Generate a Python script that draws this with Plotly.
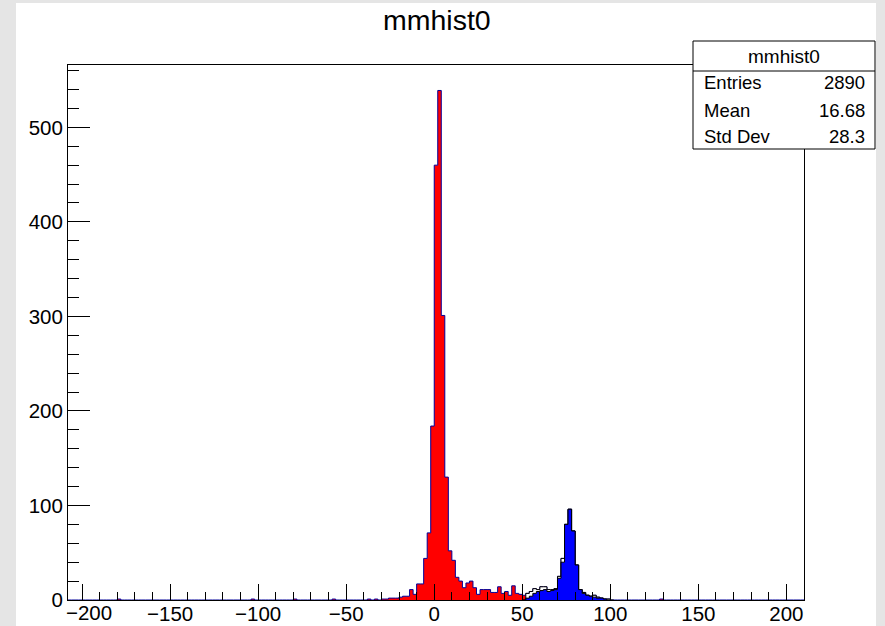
import numpy as np
import plotly.graph_objects as go

# ---------------- data ----------------
X_MIN, X_MAX, BIN_W = -208.0, 210.0, 2.0

# mmhist0 (all entries): contiguous core starting at CORE_START, plus isolated bins
CORE_START = -30
core_counts = [1, 1, 2, 2, 2, 3, 4, 4, 11, 6,
               17, 17, 44, 71, 184, 460, 539, 301, 130, 52,
               42, 24, 20, 13, 18, 20, 13, 6, 11, 11,
               11, 8, 8, 14, 7, 9, 5, 15, 7, 6,
               5, 7, 9, 12, 11, 14, 14, 11, 11, 12,
               25, 44, 80, 96, 73, 37, 11, 8, 5, 4,
               5, 3, 2, 1, 1]
sparse_edges = [-180, -104, -80, -58, -38, -34, 128]
sparse_counts = [1, 1, 1, 1, 1, 1, 1]

# selected region drawn hollow (white) above the red fill
CUT_LOW, CUT_HIGH = 52, 100

# blue sub-sample
BLUE_START = 52
blue_counts = [2, 4, 7, 9, 10, 11, 9, 10, 11, 23,
               40, 80, 96, 73, 37, 11, 7, 5, 4, 3,
               2, 2, 1]

x_tick_vals = [-200, -150, -100, -50, 0, 50, 100, 150, 200]
x_tick_text = ["\u2212200", "\u2212150", "\u2212100", "\u221250", "0", "50", "100", "150", "200"]

stats_labels = ["Entries", "Mean", "Std Dev"]
stats_values = ["2890", "16.68", "28.3"]
hist_name = "mmhist0"

# ---------------- build histograms ----------------
n_bins = int(round((X_MAX - X_MIN) / BIN_W))
edges = X_MIN + BIN_W * np.arange(n_bins + 1)


def to_index(v):
    return int(round((v - X_MIN) / BIN_W))


total = np.zeros(n_bins)
for i, c in enumerate(core_counts):
    total[to_index(CORE_START + i * BIN_W)] += c
for e, c in zip(sparse_edges, sparse_counts):
    total[to_index(e)] += c

blue = np.zeros(n_bins)
for i, c in enumerate(blue_counts):
    blue[to_index(BLUE_START + i * BIN_W)] += c


def step(lo_idx, hi_idx, counts):
    x = edges[lo_idx:hi_idx + 1]
    y = np.append(counts[lo_idx:hi_idx], counts[hi_idx - 1])
    return x, y


ymax = 1.05 * total.max()

fig = go.Figure()

x0, y0 = step(0, n_bins, total)
fig.add_trace(go.Scatter(x=x0, y=y0, mode="lines",
                         line=dict(shape="hv", color="#000099", width=1),
                         fill="tozeroy", fillcolor="#ff0000", hoverinfo="skip"))

lo, hi = to_index(CUT_LOW), to_index(CUT_HIGH)
cover = np.where((np.arange(n_bins) >= lo) & (np.arange(n_bins) < hi), total, 0)
x1, y1 = step(lo - 1, hi + 1, cover)
fig.add_trace(go.Scatter(x=x1, y=y1, mode="lines",
                         line=dict(shape="hv", color="black", width=1),
                         fill="tozeroy", fillcolor="white", hoverinfo="skip"))

blo = to_index(BLUE_START)
bhi = blo + len(blue_counts)
x2, y2 = step(blo - 1, bhi + 1, blue)
fig.add_trace(go.Scatter(x=x2, y=y2, mode="lines",
                         line=dict(shape="hv", color="black", width=1),
                         fill="tozeroy", fillcolor="#0000ff", hoverinfo="skip"))

# ---------------- layout ----------------
W, H = 885, 626
L, R, T, B = 68, 81, 65, 26
PW, PH = W - L - R, H - T - B


def px(xp):
    return (xp - L) / PW


def py(yp):
    return (H - B - yp) / PH


FONT = "Liberation Sans, Arial, sans-serif"
TICK_SIZE = 20.5

shapes = [
    dict(type="rect", xref="paper", yref="paper", layer="below",
         x0=px(16), x1=px(876), y0=py(H + 5), y1=py(3),
         fillcolor="white", line=dict(width=0)),
    dict(type="rect", xref="paper", yref="paper", layer="above",
         x0=px(693), x1=px(875), y0=py(149), y1=py(41),
         fillcolor="white", line=dict(color="black", width=1)),
    dict(type="line", xref="paper", yref="paper", layer="above",
         x0=px(693), x1=px(875), y0=py(71), y1=py(71),
         line=dict(color="black", width=1)),
]

annotations = [
    dict(text=hist_name, xref="paper", yref="paper", x=px(437), y=py(20),
         xanchor="center", yanchor="middle", showarrow=False,
         font=dict(family=FONT, size=28.5, color="black")),
    dict(text=hist_name, xref="paper", yref="paper", x=px(784), y=py(56),
         xanchor="center", yanchor="middle", showarrow=False,
         font=dict(family=FONT, size=19, color="black")),
    # first x label, nudged right of the y-axis "0" as in the reference
    dict(text=x_tick_text[0], xref="paper", yref="paper", x=px(64), y=py(612),
         xanchor="left", yanchor="middle", showarrow=False,
         font=dict(family=FONT, size=TICK_SIZE, color="black")),
]
row_y = [83, 110, 136]
for lab, val, yy in zip(stats_labels, stats_values, row_y):
    annotations.append(dict(text=lab, xref="paper", yref="paper", x=px(702), y=py(yy),
                            xanchor="left", yanchor="middle", showarrow=False,
                            font=dict(family=FONT, size=18.5, color="black")))
    annotations.append(dict(text=val, xref="paper", yref="paper", x=px(867), y=py(yy),
                            xanchor="right", yanchor="middle", showarrow=False,
                            font=dict(family=FONT, size=18.5, color="black")))

fig.update_layout(
    width=W, height=H,
    margin=dict(l=L, r=R, t=T, b=B, pad=0, autoexpand=False),
    paper_bgcolor="#e5e5e5", plot_bgcolor="white",
    showlegend=False,
    shapes=shapes, annotations=annotations,
    font=dict(family=FONT, size=TICK_SIZE, color="black"),
    xaxis=dict(range=[X_MIN, X_MAX], showgrid=False, zeroline=False, automargin=False,
               showline=True, linecolor="black", linewidth=1, mirror=True,
               ticks="inside", ticklen=16, tickwidth=1, tickcolor="black",
               tickmode="array", tickvals=x_tick_vals,
               ticktext=[""] + x_tick_text[1:], ticklabelstandoff=-5,
               minor=dict(ticks="inside", ticklen=8, tick0=0, dtick=10,
                          tickcolor="black", showgrid=False),
               tickfont=dict(family=FONT, size=TICK_SIZE, color="black")),
    yaxis=dict(range=[0, ymax], showgrid=False, zeroline=False, automargin=False,
               showline=True, linecolor="black", linewidth=1, mirror=True,
               ticks="inside", ticklen=22, tickwidth=1, tickcolor="black",
               tick0=0, dtick=100,
               minor=dict(ticks="inside", ticklen=11, dtick=20, tickcolor="black", showgrid=False),
               tickfont=dict(family=FONT, size=TICK_SIZE, color="black")),
)

fig.write_html("out.html", config=dict(displayModeBar=False),
               post_script="document.body.style.margin='0';document.body.style.overflow='hidden';")
